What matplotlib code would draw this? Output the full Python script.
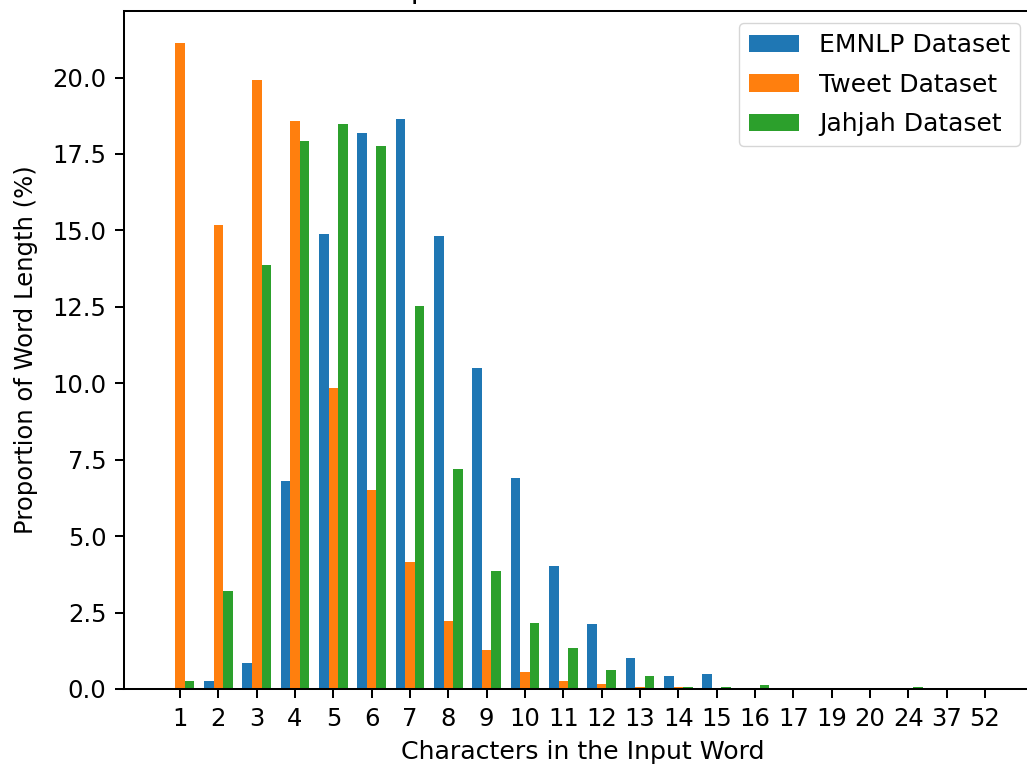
import numpy as np
import matplotlib
matplotlib.use('Agg')
import matplotlib.pyplot as plt

# word lengths (number of characters) present in the datasets
lengths = ['1', '2', '3', '4', '5', '6', '7', '8', '9', '10', '11',
           '12', '13', '14', '15', '16', '17', '19', '20', '24', '37', '52']

# share of words of each length, in percent
emnlp = [0.0, 0.26, 0.86, 6.80, 14.88, 18.18, 18.65, 14.82, 10.50, 6.91, 4.03,
         2.12, 1.03, 0.43, 0.50, 0.0, 0.0, 0.0, 0.0, 0.0, 0.0, 0.0]
tweet = [21.12, 15.18, 19.91, 18.59, 9.86, 6.50, 4.15, 2.24, 1.28, 0.56, 0.26,
         0.15, 0.08, 0.07, 0.0, 0.0, 0.0, 0.0, 0.0, 0.0, 0.0, 0.0]
jahjah = [0.26, 3.19, 13.87, 17.94, 18.48, 17.76, 12.54, 7.21, 3.85, 2.17, 1.33,
          0.62, 0.43, 0.07, 0.06, 0.14, 0.0, 0.0, 0.0, 0.06, 0.0, 0.0]

plt.rcParams['font.size'] = 17.5
plt.rcParams['axes.linewidth'] = 1.45
plt.rcParams['xtick.major.width'] = 1.45
plt.rcParams['ytick.major.width'] = 1.45
plt.rcParams['xtick.major.size'] = 6.3
plt.rcParams['ytick.major.size'] = 6.3
plt.rcParams['xtick.major.pad'] = 6.3
plt.rcParams['ytick.major.pad'] = 6.3

fig = plt.figure(figsize=(10.27, 7.65), dpi=100)
ax = fig.add_axes([124 / 1027, 76 / 765, 917 / 1027, 678 / 765])

x = np.arange(len(lengths))
width = 0.25
ax.bar(x - width, emnlp, width, label='EMNLP Dataset')
ax.bar(x, tweet, width, label='Tweet Dataset')
ax.bar(x + width, jahjah, width, label='Jahjah Dataset')

ax.set_xticks(x)
ax.set_xticklabels(lengths)
ax.set_xlabel('Characters in the Input Word', fontsize=18.2, labelpad=7)
ax.set_ylabel('Proportion of Word Length (%)', labelpad=10.5)
ax.set_title('Comparison of Character Counts', fontsize=21, pad=9)
ax.legend(loc='upper right', bbox_to_anchor=(1020 / 1027, 742 / 765),
          bbox_transform=fig.transFigure, borderaxespad=0, fontsize=18,
          labelspacing=0.62)

fig.savefig('out.png', dpi=100)
